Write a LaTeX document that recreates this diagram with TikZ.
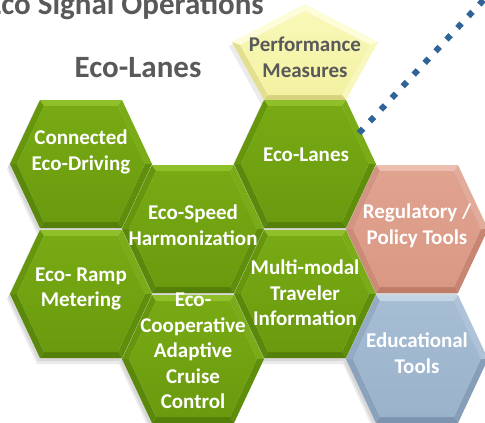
\documentclass[tikz,border=0pt]{standalone}
\usepackage{fontspec}
\setmainfont{Carlito}
\definecolor{gtop}{HTML}{8FC02A}
\definecolor{gur}{HTML}{79AC16}
\definecolor{glr}{HTML}{5E8E0A}
\definecolor{gbot}{HTML}{547F08}
\definecolor{gll}{HTML}{5A880A}
\definecolor{gul}{HTML}{66960C}
\definecolor{gin1}{HTML}{78AA14}
\definecolor{gin2}{HTML}{6A9A0E}
\definecolor{ptop}{HTML}{EDBFB0}
\definecolor{pur}{HTML}{E2AC9A}
\definecolor{plr}{HTML}{C88572}
\definecolor{pbot}{HTML}{BE7C69}
\definecolor{pll}{HTML}{CC8B77}
\definecolor{pul}{HTML}{D39583}
\definecolor{pin1}{HTML}{E0A390}
\definecolor{pin2}{HTML}{D99884}
\definecolor{btop}{HTML}{C3D4E5}
\definecolor{bur}{HTML}{AEC3D8}
\definecolor{blr}{HTML}{869EB8}
\definecolor{bbot}{HTML}{7C94AE}
\definecolor{bll}{HTML}{8AA2BB}
\definecolor{bul}{HTML}{93ABC4}
\definecolor{bin1}{HTML}{A6BDD4}
\definecolor{bin2}{HTML}{9AB2CA}
\definecolor{ytop}{HTML}{FDFDDA}
\definecolor{yur}{HTML}{F8F7BC}
\definecolor{ylr}{HTML}{DEDB86}
\definecolor{ybot}{HTML}{D6D37C}
\definecolor{yll}{HTML}{E2E08E}
\definecolor{yul}{HTML}{ECEA9E}
\definecolor{yin1}{HTML}{F9F8B8}
\definecolor{yin2}{HTML}{F3F2A2}
\definecolor{titlegray}{HTML}{595959}
\definecolor{dotblue}{HTML}{2F6499}
\newcommand\hexshade[2]{%
  \begin{scope}[shift={(#1,#2)}]
    \fill[black,opacity=.08] (-74,5)--(-44,70)--(38,70)--(68,5)--(38,-59)--(-44,-59)--cycle;
    \fill[black,opacity=.08] (-73,3)--(-43,67)--(39,67)--(69,3)--(39,-61)--(-43,-61)--cycle;
  \end{scope}}
\newcommand\hexcell[3]{%
  \begin{scope}[shift={(#1,#2)}]
    \fill[#3top] (-41,-64)--(41,-64)--(37,-58)--(-37,-58)--cycle;
    \fill[#3ur] (41,-64)--(71,0)--(64,0)--(37,-58)--cycle;
    \fill[#3lr] (71,0)--(41,64)--(37,58)--(64,0)--cycle;
    \fill[#3bot] (41,64)--(-41,64)--(-37,58)--(37,58)--cycle;
    \fill[#3ll] (-41,64)--(-71,0)--(-64,0)--(-37,58)--cycle;
    \fill[#3ul] (-71,0)--(-41,-64)--(-37,-58)--(-64,0)--cycle;
    \shade[top color=#3in1,bottom color=#3in2] (-64,0)--(-37,-58)--(37,-58)--(64,0)--(37,58)--(-37,58)--cycle;
  \end{scope}}
\tikzset{
  hextext/.style={text=white,font=\bfseries\fontsize{21}{25.5}\selectfont,align=center,inner sep=0pt},
  darktext/.style={text=titlegray,font=\bfseries\fontsize{21}{26}\selectfont,align=center,inner sep=0pt},
  headtext/.style={text=titlegray,font=\bfseries\fontsize{31}{36}\selectfont,inner sep=0pt},
  dotline/.style={dotblue,line width=6pt,dash pattern=on 6pt off 10pt,line cap=butt}
}
\begin{document}
\begin{tikzpicture}[x=1pt,y=-1pt]
\useasboundingbox (0,0) rectangle (485,423);
\clip (0,0) rectangle (485,423);
\fill[white] (0,0) rectangle (485,423);
% heading
\node[headtext,anchor=base east] (head) at (264,14) {Eco Signal Operations};
\node[headtext,anchor=base] (title) at (138,77) {Eco-Lanes};
% shadows
\hexshade{81}{164}\hexshade{81}{294}
\hexshade{193}{229}\hexshade{193}{359}
\hexshade{305}{164}\hexshade{305}{294}
\hexshade{417}{229}\hexshade{417}{359}
\fill[black,opacity=.08] (302,8)--(375,46)--(343,104)--(261,104)--(229,46)--cycle;
% pentagon
\fill[ytop] (305,4)--(378,42)--(370,45)--(305,11)--cycle;
\fill[ytop] (305,4)--(232,42)--(240,45)--(305,11)--cycle;
\fill[yur] (378,42)--(346,100)--(342,95)--(370,45)--cycle;
\fill[ybot] (346,100)--(264,100)--(268,95)--(342,95)--cycle;
\fill[yll] (264,100)--(232,42)--(240,45)--(268,95)--cycle;
\shade[top color=yin1,bottom color=yin2] (305,11)--(370,45)--(342,95)--(268,95)--(240,45)--cycle;
% hexagons
\hexcell{81}{164}{g}
\hexcell{81}{294}{g}
\hexcell{193}{229}{g}
\hexcell{193}{359}{g}
\hexcell{305}{164}{g}
\hexcell{305}{294}{g}
\hexcell{417}{229}{p}
\hexcell{417}{359}{b}
% dotted connector
\coordinate (dotA) at (359,133);
\coordinate (dotB) at (492,-9);
\draw[dotline] (dotA) -- (dotB);
% labels
\node[darktext] (perf) at (305,57) {Performance\\Measures};
\node[hextext] (ced) at (81,152) {Connected\\Eco-Driving};
\node[hextext] (lanes) at (306,155) {Eco-Lanes};
\node[hextext] (ramp) at (81,289) {Eco- Ramp\\Metering};
\node[hextext] (speed) at (193,225) {Eco-Speed\\Harmonization};
\node[hextext] (multi) at (305,293) {Multi-modal\\Traveler\\Information};
\node[hextext] (coop) at (193,351) {Eco-\\Cooperative\\Adaptive\\Cruise\\Control};
\node[hextext] (reg) at (417,226) {Regulatory /\\Policy Tools};
\node[hextext] (edu) at (417,353) {Educational\\Tools};
\end{tikzpicture}
\end{document}
